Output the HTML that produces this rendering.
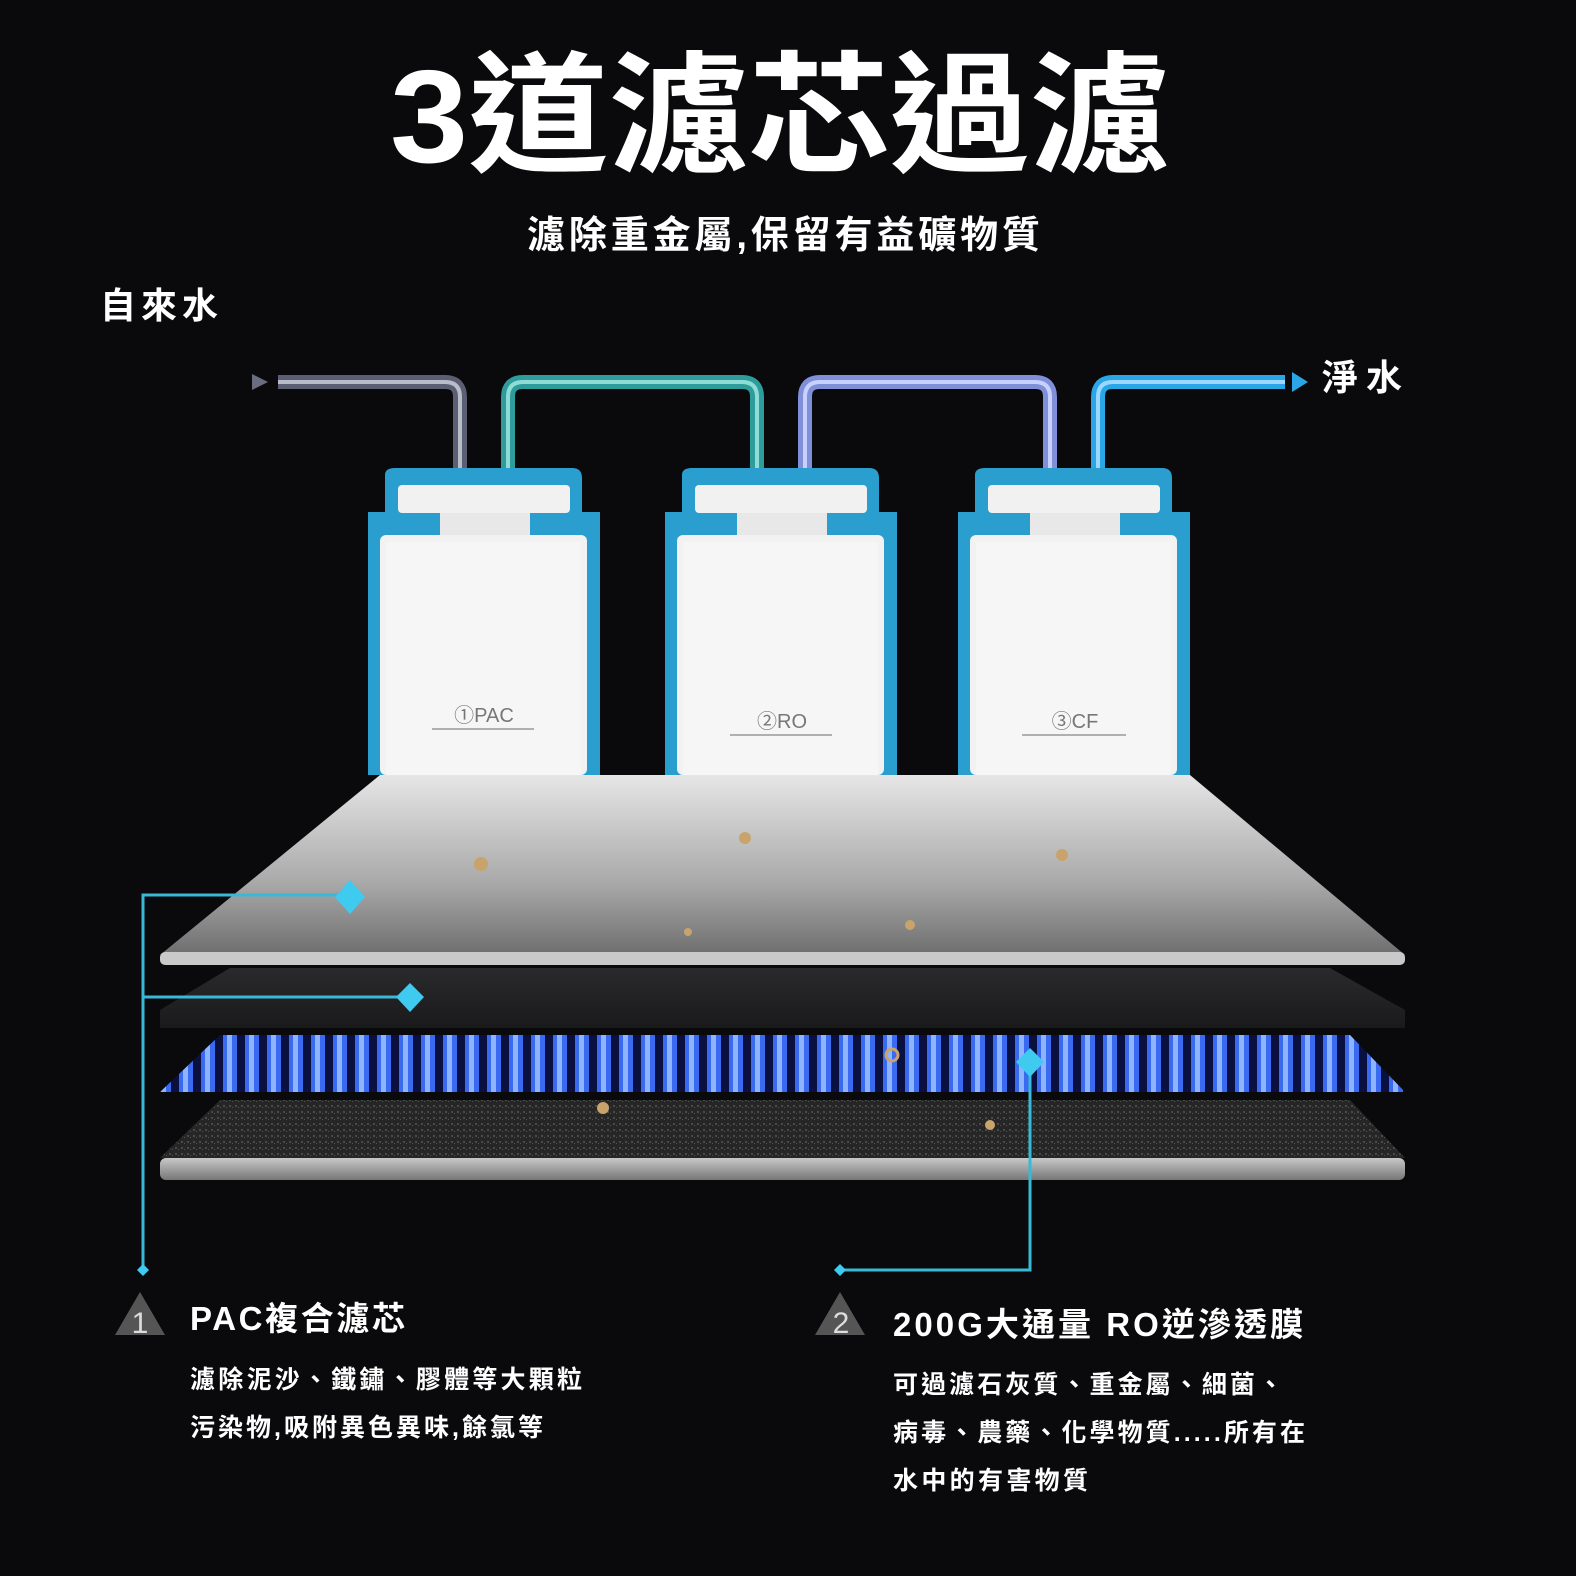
<!DOCTYPE html>
<html><head><meta charset="utf-8"><style>
html,body{margin:0;padding:0;background:#0a0a0c;}
svg{display:block}
text{font-family:"Liberation Sans","Noto Sans CJK TC",sans-serif;}
</style></head><body>
<svg width="1576" height="1576" viewBox="0 0 1576 1576" xmlns="http://www.w3.org/2000/svg">
<defs>
<linearGradient id="plate" x1="0" y1="0" x2="0" y2="1">
<stop offset="0" stop-color="#e6e6e6"/><stop offset="0.6" stop-color="#a9a9a9"/><stop offset="1" stop-color="#6e6e6e"/></linearGradient>
<linearGradient id="bar" x1="0" y1="0" x2="0" y2="1">
<stop offset="0" stop-color="#c8c8c8"/><stop offset="1" stop-color="#777"/></linearGradient>
<linearGradient id="blk" x1="0" y1="0" x2="0" y2="1">
<stop offset="0" stop-color="#2a2a2c"/><stop offset="1" stop-color="#1a1a1c"/></linearGradient>
<pattern id="stripes" width="22" height="60" patternUnits="userSpaceOnUse">
<rect width="22" height="60" fill="#0a1040"/>
<rect x="3" width="14" height="60" fill="#3a6af0"/>
<rect x="7" width="5" height="60" fill="#8fb4ff"/>
</pattern>
<pattern id="grain" width="6" height="6" patternUnits="userSpaceOnUse">
<rect width="6" height="6" fill="#262626"/><rect x="1" y="1" width="2" height="2" fill="#4a4a4a"/><rect x="4" y="3" width="1" height="1" fill="#555"/></pattern>
</defs>

<text x="390" y="162" font-size="132" font-weight="bold" fill="#fff" textLength="780" lengthAdjust="spacingAndGlyphs">3道濾芯過濾</text>
<text x="527" y="248" font-size="38" font-weight="bold" fill="#fff" textLength="513" lengthAdjust="spacing">濾除重金屬,保留有益礦物質</text>
<text x="100" y="318" font-size="36" font-weight="bold" fill="#fff" textLength="118" lengthAdjust="spacing">自來水</text>
<text x="1322" y="390" font-size="36" font-weight="bold" fill="#fff" textLength="80" lengthAdjust="spacing">淨水</text>

<!-- pipes -->
<g fill="none" stroke-width="14" stroke-linejoin="round">
<path d="M278 382 H445 Q460 382 460 397 V470" stroke="#5c5f73"/>
<path d="M508 470 V397 Q508 382 523 382 H742 Q757 382 757 397 V470" stroke="#2e9c9a"/>
<path d="M805 470 V397 Q805 382 820 382 H1035 Q1050 382 1050 397 V470" stroke="#7f8fd8"/>
<path d="M1098 470 V397 Q1098 382 1113 382 H1285" stroke="#2aa6e6"/>
</g>
<g fill="none" stroke-width="4">
<path d="M278 382 H445 Q460 382 460 397 V470" stroke="#b9bcc9"/>
<path d="M508 470 V397 Q508 382 523 382 H742 Q757 382 757 397 V470" stroke="#8fdcd6"/>
<path d="M805 470 V397 Q805 382 820 382 H1035 Q1050 382 1050 397 V470" stroke="#c8d0ff"/>
<path d="M1098 470 V397 Q1098 382 1113 382 H1285" stroke="#9ad8ff"/>
</g>
<polygon points="252,374 268,382 252,390" fill="#6a6d80"/>
<polygon points="1292,372 1308,382 1292,392" fill="#2aa6e6"/>

<!-- filters -->
<g id="f">
<path d="M385 475 Q385 468 395 468 H572 Q582 468 582 478 V512 H600 V775 H368 V512 H385 Z" fill="#2a9fcf"/>
<rect x="398" y="485" width="172" height="28" rx="4" fill="#f1f1f1"/>
<rect x="440" y="513" width="90" height="22" fill="#e8e8e8"/>
<rect x="380" y="535" width="207" height="240" rx="6" fill="#f2f2f2"/>
<rect x="386" y="542" width="195" height="233" fill="#f6f6f6"/>
</g>
<use href="#f" x="297"/>
<use href="#f" x="590"/>
<text x="484" y="722" font-size="20" fill="#777" text-anchor="middle">①PAC</text>
<line x1="432" y1="729" x2="534" y2="729" stroke="#999" stroke-width="1.5"/>
<text x="782" y="728" font-size="20" fill="#777" text-anchor="middle">②RO</text>
<line x1="730" y1="735" x2="832" y2="735" stroke="#999" stroke-width="1.5"/>
<text x="1075" y="728" font-size="20" fill="#777" text-anchor="middle">③CF</text>
<line x1="1022" y1="735" x2="1126" y2="735" stroke="#999" stroke-width="1.5"/>

<!-- layers -->
<polygon points="380,775 1190,775 1405,955 160,955" fill="url(#plate)"/>
<rect x="160" y="952" width="1245" height="13" rx="5" fill="#c9c9c9"/>
<polygon points="230,968 1330,968 1405,1010 1405,1028 160,1028 160,1010" fill="url(#blk)"/>
<polygon points="220,1035 1350,1035 1405,1092 160,1092" fill="url(#stripes)"/>
<polygon points="220,1100 1350,1100 1405,1158 160,1158" fill="url(#grain)"/>
<rect x="160" y="1158" width="1245" height="22" rx="6" fill="url(#bar)"/>
<g fill="#c8a46c">
<circle cx="481" cy="864" r="7"/><circle cx="745" cy="838" r="6"/><circle cx="1062" cy="855" r="6"/>
<circle cx="688" cy="932" r="4"/><circle cx="910" cy="925" r="5"/><circle cx="603" cy="1108" r="6"/>
<circle cx="892" cy="1055" r="6" fill="none" stroke="#c8a46c" stroke-width="3"/><circle cx="990" cy="1125" r="5"/></g>

<!-- connectors -->
<g stroke="#3ab8d8" stroke-width="3" fill="none">
<path d="M350 895 H143 V1270"/><path d="M410 997 H143"/>
<path d="M1030 1062 V1270 H840"/>
</g>
<g fill="#3fcaf0">
<polygon points="350,880 365,897 350,914 335,897"/>
<polygon points="410,983 424,997 410,1012 396,997"/>
<polygon points="1030,1048 1044,1062 1030,1077 1016,1062"/>
<polygon points="143,1264 149,1270 143,1276 137,1270"/>
<polygon points="840,1264 846,1270 840,1276 834,1270"/>
</g>

<!-- labels -->
<polygon points="140,1292 165,1335 115,1335" fill="#555"/>
<text x="140" y="1333" font-size="30" fill="#ddd" text-anchor="middle" font-family="Liberation Serif,serif">1</text>
<text x="190" y="1330" font-size="33" font-weight="bold" fill="#fff" textLength="215" lengthAdjust="spacing">PAC複合濾芯</text>
<text x="190" y="1388" font-size="25" font-weight="bold" fill="#fff" textLength="392" lengthAdjust="spacing">濾除泥沙、鐵鏽、膠體等大顆粒</text>
<text x="190" y="1436" font-size="25" font-weight="bold" fill="#fff" textLength="353" lengthAdjust="spacing">污染物,吸附異色異味,餘氯等</text>

<polygon points="840,1292 865,1335 815,1335" fill="#555"/>
<text x="841" y="1333" font-size="30" fill="#ddd" text-anchor="middle" font-family="Liberation Serif,serif">2</text>
<text x="893" y="1336" font-size="33" font-weight="bold" fill="#fff" textLength="410" lengthAdjust="spacing">200G大通量 RO逆滲透膜</text>
<text x="893" y="1393" font-size="25" font-weight="bold" fill="#fff" textLength="390" lengthAdjust="spacing">可過濾石灰質、重金屬、細菌、</text>
<text x="893" y="1441" font-size="25" font-weight="bold" fill="#fff" textLength="412" lengthAdjust="spacing">病毒、農藥、化學物質.....所有在</text>
<text x="893" y="1489" font-size="25" font-weight="bold" fill="#fff" textLength="195" lengthAdjust="spacing">水中的有害物質</text>
</svg>
</body></html>
